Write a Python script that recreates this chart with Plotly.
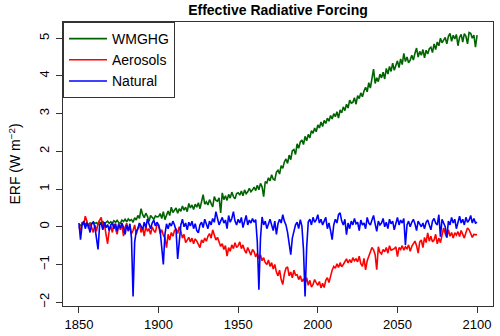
"""Effective radiative forcing time series, R-style line plot."""

import plotly.graph_objects as go

years = list(range(1850, 2101))

# WMGHG forcing (W m-2), one value per year 1850-2100
wmghg = [
    0.06, 0.03, 0.09, 0.11, 0.07, 0.12, 0.05, 0.10, 0.08, 0.13,
    0.09, 0.11, 0.06, 0.12, 0.10, 0.14, 0.08, 0.11, 0.15, 0.09,
    0.13, 0.10, 0.16, 0.12, 0.17, 0.11, 0.09, 0.18, 0.14, 0.20,
    0.13, 0.21, 0.16, 0.19, 0.12, 0.24, 0.18, 0.30, 0.22, 0.48,
    0.32, 0.24, 0.36, 0.28, 0.14, 0.30, 0.25, 0.20, 0.29, 0.26,
    0.27, 0.35, 0.22, 0.40, 0.19, 0.33, 0.42, 0.30, 0.52, 0.38,
    0.45, 0.50, 0.36, 0.48, 0.41, 0.55, 0.44, 0.52, 0.40, 0.62,
    0.50, 0.58, 0.46, 0.60, 0.52, 0.64, 0.48, 0.70, 0.85, 0.60,
    0.66, 0.58, 0.72, 0.62, 0.53, 0.80, 0.70, 0.68, 0.77, 0.37,
    0.90, 0.72, 0.82, 0.70, 0.86, 0.76, 0.92, 0.80, 0.74, 0.88,
    0.90, 0.84, 0.95, 0.82, 0.98, 0.88, 0.93, 1.02, 0.93, 0.98,
    1.05, 0.96, 1.10, 0.98, 1.15, 1.06, 0.80, 1.20, 1.16, 1.30,
    1.22, 1.38, 1.26, 1.24, 1.45, 1.50, 1.40, 1.62, 1.55, 1.72,
    1.80, 1.68, 1.90, 1.78, 2.02, 2.05, 1.92, 2.20, 2.08, 2.25,
    2.30, 2.18, 2.40, 2.28, 2.45, 2.36, 2.55, 2.48, 2.62, 2.52,
    2.70, 2.62, 2.78, 2.66, 2.82, 2.74, 2.88, 2.80, 2.95, 2.86,
    3.00, 2.92, 3.05, 2.88, 3.10, 3.02, 3.18, 3.08, 3.25, 3.15,
    3.36, 3.28, 3.30, 3.42, 3.25, 3.48, 3.40, 3.55, 3.45, 3.60,
    3.70, 3.58, 3.82, 3.68, 3.90, 4.18, 3.80, 3.95, 3.85, 4.05,
    3.95, 4.10, 3.92, 4.20, 4.05, 4.25, 4.12, 4.34, 4.15, 4.30,
    4.40, 4.22, 4.45, 4.30, 4.60, 4.38, 4.50, 4.35, 4.42, 4.55,
    4.42, 4.60, 4.74, 4.50, 4.65, 4.55, 4.70, 4.48, 4.68, 4.58,
    4.72, 4.76, 4.62, 4.85, 4.70, 4.90, 4.80, 5.00, 4.88, 4.95,
    5.02, 4.85, 5.05, 5.13, 4.92, 5.08, 4.98, 5.10, 4.80, 5.02,
    5.10, 4.90, 5.12, 5.05, 4.85, 5.15, 5.13, 5.00, 5.08, 4.76,
    5.08,
]

# Aerosol forcing (W m-2)
aerosols = [
    0.00, -0.10, 0.12, 0.05, 0.28, 0.15, -0.05, 0.10, -0.02, -0.15,
    0.05, -0.12, 0.10, 0.20, 0.25, -0.05, 0.08, -0.20, -0.45, -0.10,
    0.02, -0.15, 0.08, -0.05, -0.20, 0.10, -0.08, 0.05, -0.25, -0.02,
    0.10, -0.12, 0.02, -0.18, -0.10, 0.05, -0.20, -0.05, 0.08, -0.15,
    -0.02, -0.25, 0.02, -0.12, -0.05, -0.20, 0.00, -0.10, -0.15, 0.05,
    0.04, -0.18, -0.08, -0.22, -0.30, -0.55, -0.20, -0.35, -0.15, -0.25,
    -0.10, -0.05, -0.18, 0.00, -0.12, -0.30, -0.20, -0.42, -0.35, -0.28,
    -0.40, -0.30, -0.45, -0.32, -0.38, -0.48, -0.55, -0.35, -0.42, -0.30,
    -0.38, -0.25, -0.18, -0.30, -0.08, -0.22, -0.35, -0.28, -0.40, -0.52,
    -0.45, -0.60, -0.50, -0.78, -0.55, -0.65, -0.48, -0.58, -0.42, -0.55,
    -0.50, -0.40, -0.58, -0.48, -0.62, -0.70, -0.55, -0.68, -0.75, -0.60,
    -0.66, -0.80, -0.70, -0.85, -0.75, -0.90, -0.82, -0.95, -1.00, -0.88,
    -1.05, -0.95, -1.12, -1.00, -1.20, -1.30, -1.15, -1.40, -1.53, -1.25,
    -1.10, -1.06, -1.30, -1.20, -1.35, -1.15, -1.28, -1.27, -1.40, -1.30,
    -1.45, -1.38, -1.50, -1.35, -1.55, -1.42, -1.60, -1.53, -1.40, -1.48,
    -1.55, -1.45, -1.62, -1.50, -1.61, -1.42, -1.35, -1.48, -1.27, -1.15,
    -1.05, -1.10, -0.98, -1.08, -0.95, -1.06, -1.00, -0.92, -0.85, -0.96,
    -0.87, -0.95, -0.82, -0.90, -0.85, -0.93, -0.78, -0.98, -1.05, -0.84,
    -1.14, -0.90, -0.79, -0.70, -0.55, -0.61, -0.74, -1.14, -0.53, -0.68,
    -0.72, -0.60, -0.66, -0.55, -0.70, -0.50, -0.62, -0.60, -0.58, -0.53,
    -0.79, -0.55, -0.60, -0.50, -0.62, -0.53, -0.58, -0.48, -0.65, -0.52,
    -0.45, -0.38, -0.50, -0.70, -0.40, -0.35, -0.55, -0.28, -0.42, -0.16,
    -0.38, -0.25, -0.40, -0.35, -0.20, -0.45, -0.30, -0.42, -0.22, -0.03,
    -0.18, -0.28, -0.08, -0.25, -0.15, -0.30, -0.16, -0.22, -0.13, -0.26,
    -0.10, -0.20, -0.30, -0.15, -0.03, -0.08, -0.18, -0.28, -0.20, -0.21,
    -0.21,
]

# Natural forcing (W m-2)
natural = [
    0.10, -0.34, 0.05, 0.15, -0.05, 0.10, 0.02, -0.15, 0.08, 0.12,
    0.00, -0.25, -0.60, 0.05, 0.10, -0.08, 0.12, -0.02, 0.06, -0.10,
    0.05, 0.10, -0.05, 0.08, -0.12, 0.06, -0.03, 0.10, -0.02, -0.20,
    0.05, -0.10, 0.08, -0.30, -1.85, -0.40, -0.12, -0.05, 0.10, 0.02,
    -0.08, 0.12, -0.02, 0.20, 0.05, -0.05, 0.10, 0.18, 0.02, 0.12,
    0.05, -0.10, -0.55, -1.00, -0.20, 0.08, -0.05, 0.10, 0.02, 0.15,
    0.05, -0.10, -0.85, -0.30, 0.05, 0.20, 0.00, 0.10, -0.08, 0.12,
    0.02, 0.15, -0.05, 0.08, -0.10, -0.16, 0.05, 0.12, -0.02, 0.20,
    0.10, -0.05, 0.15, 0.05, 0.22, 0.12, 0.40, 0.20, 0.05, 0.15,
    0.25, 0.10, 0.18, -0.05, 0.30, 0.12, 0.22, 0.40, 0.15, 0.05,
    0.20, 0.10, 0.25, -0.02, 0.15, 0.30, 0.05, 0.18, 0.10, 0.22,
    0.12, 0.19, -0.40, -1.67, -0.30, 0.26, 0.05, 0.15, -0.05, 0.10,
    0.20, 0.05, -0.10, 0.15, -0.20, 0.08, 0.20, 0.10, 0.32, 0.15,
    0.05, -0.15, -0.40, -0.74, -0.30, -0.10, 0.05, 0.12, -0.05, 0.19,
    0.02, -0.60, -1.85, -0.55, 0.13, 0.20, 0.05, 0.25, 0.12, 0.18,
    0.32, 0.10, 0.20, 0.05, 0.15, 0.25, -0.05, 0.10, -0.10, -0.34,
    0.05, 0.20, 0.10, 0.32, 0.37, 0.15, 0.05, 0.20, -0.21, 0.10,
    -0.05, 0.15, 0.05, 0.22, 0.08, 0.12, -0.10, 0.18, 0.05, 0.10,
    -0.05, 0.25, 0.10, 0.05, 0.18, 0.30, 0.08, -0.12, 0.15, 0.05,
    0.10, 0.22, 0.00, 0.12, -0.05, 0.20, 0.08, 0.15, -0.08, 0.10,
    0.25, 0.05, 0.18, 0.10, 0.22, -0.48, 0.05, 0.15, 0.00, 0.12,
    0.20, 0.08, -0.10, 0.15, 0.05, 0.00, 0.10, -0.05, 0.12, 0.18,
    0.05, -0.08, 0.15, 0.22, 0.10, 0.05, 0.32, -0.26, 0.20, 0.10,
    0.00, -0.29, 0.15, 0.05, 0.25, 0.10, 0.20, -0.05, 0.15, 0.28,
    0.10, 0.20, 0.05, 0.25, 0.12, 0.18, 0.30, 0.10, 0.22, 0.10,
    0.12,
]

series = [
    ("WMGHG", wmghg, "#006400"),
    ("Aerosols", aerosols, "#ff0000"),
    ("Natural", natural, "#0000ff"),
]

x_ticks = [1850, 1900, 1950, 2000, 2050, 2100]
y_ticks = [-2, -1, 0, 1, 2, 3, 4, 5]

FONT = "Liberation Sans, Arial, sans-serif"
FRAME = "#333333"

fig = go.Figure()
for name, values, colour in series:
    fig.add_trace(
        go.Scatter(
            x=years,
            y=values,
            mode="lines",
            name=name,
            line=dict(color=colour, width=1.6),
        )
    )

axis_common = dict(
    showgrid=False,
    zeroline=False,
    showline=True,
    mirror=True,
    linecolor=FRAME,
    linewidth=1,
    ticks="outside",
    ticklen=6,
    tickcolor=FRAME,
    tickfont=dict(size=13, color="#000000"),
    automargin=False,
)

fig.update_layout(
    width=500,
    height=336,
    margin=dict(l=63, r=7, t=22, b=30),
    paper_bgcolor="white",
    plot_bgcolor="white",
    font=dict(family=FONT, color="#000000"),
    title=dict(
        text="<b>Effective Radiative Forcing</b>",
        x=0.5,
        xref="paper",
        y=0.985,
        yref="container",
        yanchor="top",
        font=dict(size=14),
    ),
    xaxis=dict(
        range=[1840, 2110],
        tickvals=x_ticks,
        **axis_common,
    ),
    yaxis=dict(
        range=[-2.1, 5.43],
        tickvals=y_ticks,
        tickangle=-90,
        ticklabelstandoff=2,
        title=dict(text="ERF (W m<sup>−2</sup>)", font=dict(size=14), standoff=12),
        **axis_common,
    ),
    legend=dict(
        x=0,
        y=1,
        xanchor="left",
        yanchor="top",
        bgcolor="white",
        bordercolor=FRAME,
        borderwidth=1,
        font=dict(size=14),
        tracegroupgap=0,
        itemwidth=38,
    ),
)

# the page body has a default 8px margin; drop it so the figure sits at 0,0
fig.write_html(
    "out.html",
    config={"displayModeBar": False},
    post_script="document.body.style.margin='0';document.body.style.padding='0';",
)
